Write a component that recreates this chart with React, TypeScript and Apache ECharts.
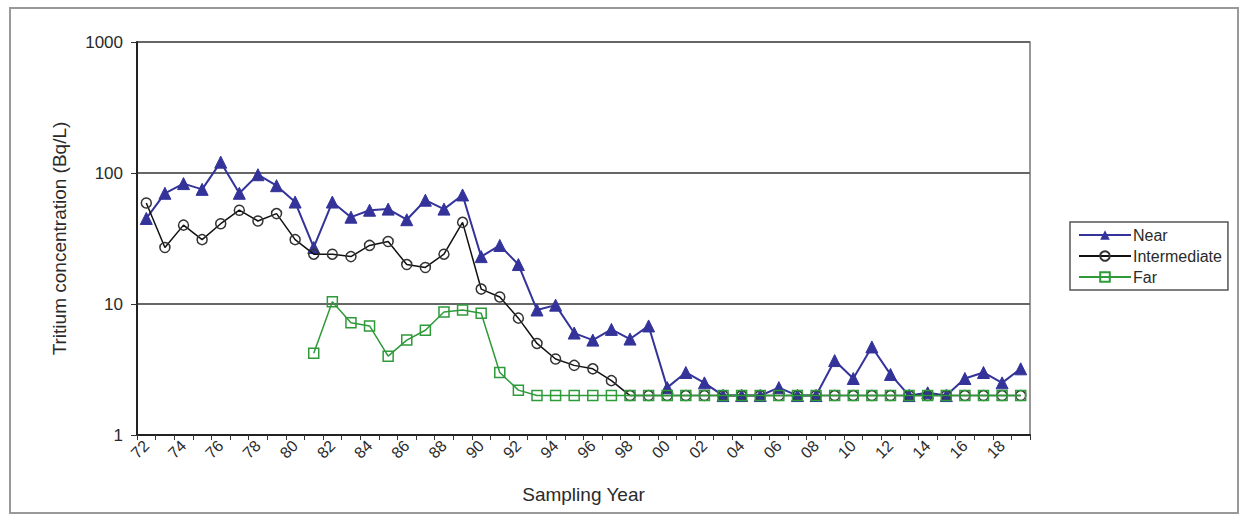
import React, { useEffect, useRef } from "react";
import * as echarts from "echarts";

const years: string[] = [
  "72","73","74","75","76","77","78","79","80","81","82","83","84","85","86","87","88","89",
  "90","91","92","93","94","95","96","97","98","99","00","01","02","03","04","05","06","07",
  "08","09","10","11","12","13","14","15","16","17","18","19",
];

const nearValues: number[] = [
  45, 70, 83, 75, 121, 70, 97, 80, 60, 27, 60, 46, 52, 53, 44, 62, 53, 68,
  23, 28, 20, 9.0, 9.8, 6.0, 5.3, 6.4, 5.4, 6.8, 2.3, 3.0, 2.5, 2.0, 2.0, 2.0, 2.3, 2.0,
  2.0, 3.7, 2.7, 4.7, 2.9, 2.0, 2.1, 2.0, 2.7, 3.0, 2.5, 3.2,
];

const intermediateValues: number[] = [
  59, 27, 40, 31, 41, 52, 43, 49, 31, 24, 24, 23, 28, 30, 20, 19, 24, 42,
  13, 11.3, 7.8, 5.0, 3.8, 3.4, 3.2, 2.6, 2.0, 2.0, 2.0, 2.0, 2.0, 2.0, 2.0, 2.0, 2.0, 2.0,
  2.0, 2.0, 2.0, 2.0, 2.0, 2.0, 2.0, 2.0, 2.0, 2.0, 2.0, 2.0,
];

const farValues: (number | null)[] = [
  null, null, null, null, null, null, null, null, null, 4.2, 10.4, 7.2, 6.8, 4.0, 5.3, 6.3, 8.7, 9.0,
  8.5, 3.0, 2.2, 2.0, 2.0, 2.0, 2.0, 2.0, 2.0, 2.0, 2.0, 2.0, 2.0, 2.0, 2.0, 2.0, 2.0, 2.0,
  2.0, 2.0, 2.0, 2.0, 2.0, 2.0, 2.0, 2.0, 2.0, 2.0, 2.0, 2.0,
];

const NEAR = "#33339a";
const INTER = "#111111";
const FAR = "#2e9a3a";
const FONT = "Liberation Sans, Arial, sans-serif";
const TXT = "#2a2a2a";

export default function App() {
  const ref = useRef<HTMLDivElement>(null);
  useEffect(() => {
    if (!ref.current) return;
    const chart = echarts.init(ref.current, undefined, { renderer: "svg" });
    chart.setOption({
      animation: false,
      backgroundColor: "#ffffff",
      textStyle: { fontFamily: FONT },
      graphic: [
        {
          type: "rect",
          shape: { x: 10, y: 8, width: 1228, height: 505 },
          style: { fill: "none", stroke: "#999", lineWidth: 2 },
          silent: true,
        },
      ],
      grid: {
        left: 137,
        right: 213,
        top: 42,
        bottom: 82,
        show: true,
        borderColor: "#777",
        borderWidth: 1.5,
      },
      legend: {
        orient: "vertical",
        left: 1070,
        top: 222,
        itemWidth: 52,
        itemHeight: 12,
        itemGap: 5,
        padding: [5, 6, 5, 8],
        borderColor: "#555",
        borderWidth: 1.5,
        textStyle: { fontSize: 16, color: TXT, fontFamily: FONT, padding: [0, 0, 0, -3] },
        data: ["Near", "Intermediate", "Far"],
      },
      xAxis: {
        type: "category",
        data: years,
        boundaryGap: true,
        name: "Sampling Year",
        nameLocation: "middle",
        nameGap: 50,
        nameTextStyle: { fontSize: 19, color: TXT, fontFamily: FONT },
        axisLine: { lineStyle: { color: "#222", width: 2 } },
        axisTick: { show: true, interval: 0, length: 5, lineStyle: { color: "#333" } },
        axisLabel: {
          interval: 1,
          rotate: 45,
          fontSize: 16,
          color: TXT,
          fontFamily: FONT,
          margin: 8,
        },
        splitLine: { show: false },
      },
      yAxis: {
        type: "log",
        logBase: 10,
        min: 1,
        max: 1000,
        name: "Tritium concentration (Bq/L)",
        nameLocation: "middle",
        nameGap: 68,
        nameTextStyle: { fontSize: 19, color: TXT, fontFamily: FONT },
        axisLine: { show: true, lineStyle: { color: "#222", width: 2 } },
        axisTick: { show: true, length: 6, lineStyle: { color: "#333" } },
        axisLabel: {
          fontSize: 17,
          color: TXT,
          fontFamily: FONT,
          margin: 14,
          formatter: (v: number) => String(Math.round(v)),
        },
        splitLine: { show: true, lineStyle: { color: "#666", width: 2 } },
        minorTick: { show: false },
      },
      series: [
        {
          name: "Near",
          type: "line",
          data: nearValues,
          symbol: "triangle",
          symbolSize: 12,
          itemStyle: { color: NEAR, borderColor: NEAR },
          lineStyle: { color: NEAR, width: 2 },
          z: 2,
        },
        {
          name: "Intermediate",
          type: "line",
          data: intermediateValues,
          symbol: "circle",
          symbolSize: 10,
          showAllSymbol: true,
          itemStyle: { color: "rgba(255,255,255,0)", borderColor: "#333", borderWidth: 1.5 },
          lineStyle: { color: INTER, width: 1.5 },
          z: 3,
        },
        {
          name: "Far",
          type: "line",
          data: farValues,
          symbol: "rect",
          symbolSize: 10,
          showAllSymbol: true,
          connectNulls: false,
          itemStyle: { color: "rgba(255,255,255,0)", borderColor: FAR, borderWidth: 1.5 },
          lineStyle: { color: FAR, width: 1.5 },
          z: 4,
        },
      ],
    });
    return () => chart.dispose();
  }, []);
  return (
    <div
      ref={ref}
      style={{ position: "fixed", left: 0, top: 0, width: 1243, height: 517 }}
    />
  );
}
